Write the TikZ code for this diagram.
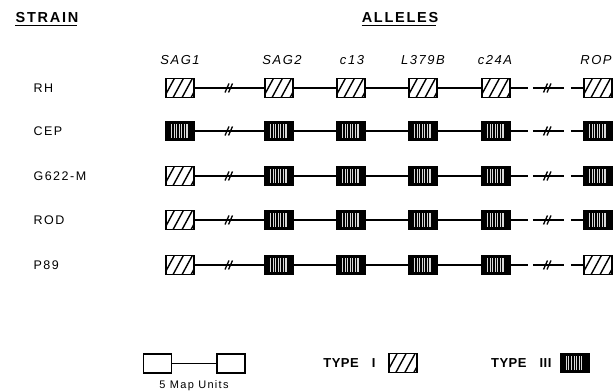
\documentclass[tikz,border=0pt]{standalone}
\usepackage{fontspec}
\setmainfont{Liberation Sans}[LetterSpace=12]
\usetikzlibrary{positioning,calc}

\tikzset{
  allele/.style={draw,line width=1.5pt,minimum width=28pt,minimum height=19pt,inner sep=0pt},
  plain/.style={allele,fill=white},
  typeI/.style={allele,fill=white,path picture={
      \foreach \d in {-26,-17,-8,1,10}
        \draw[line width=1.4pt] ([xshift=\d pt,yshift=-2pt]path picture bounding box.south) -- ++(13,24);}},
  typeIII/.style={allele,fill=black,path picture={
      \foreach \d/\w in {-8.5/1.3,-6/0.7,-3.5/1.4,-0.5/0.8,1.8/1.3,4.5/0.8,7/1.4}
        \draw[white!85!black,line width=\w pt] ([xshift=\d pt,yshift=2.5pt]path picture bounding box.south) -- ++(0,14);}},
  strain/.style={anchor=west,font=\fontsize{12.5}{12}\selectfont},
  gene/.style={font=\fontsize{13}{13}\selectfont\itshape},
  heading/.style={inner sep=0pt,font=\fontsize{14.5}{14}\selectfont\bfseries},
  key/.style={font=\fontsize{13}{13}\selectfont\bfseries\addfontfeatures{LetterSpace=4}},
  link/.style={line width=1.1pt},
  brk/.pic={\draw[line width=1.3pt] (-4.5,-4.5) -- (-0.5,4.5) (-1,-4.5) -- (3,4.5);}
}

\begin{document}
\begin{tikzpicture}[x=1pt,y=1pt]
  \useasboundingbox (0,0) rectangle (613,391);

  % headings
  \node[heading] (strainhead) at (47,373) {STRAIN};
  \node[heading] (allelehead) at (400,373) {ALLELES};
  \foreach \h in {strainhead,allelehead}
    \draw[line width=1.3pt] ([yshift=-2.5pt]\h.south west) -- ([yshift=-2.5pt,xshift=-2pt]\h.south east);

  % gene names
  \foreach \g/\x [count=\i] in {SAG1/180,SAG2/282,c13/352,L379B/423,c24A/495,ROP/596}
    \node[gene] (gene\i) at (\x,331) {\g};

  % strains
  \foreach \name/\y/\ta/\tb/\tc/\td/\te/\tf [count=\r] in {
      RH/303/I/I/I/I/I/I,
      CEP/260/III/III/III/III/III/III,
      G622-M/215/I/III/III/III/III/III,
      ROD/171/I/III/III/III/III/III,
      P89/126/I/III/III/III/III/I}
  {
    \node[strain] (st\r) at (30,\y) {\name};
    \node[type\ta] (g\r a) at (180,\y) {};
    \node[type\tb] (g\r b) at (279,\y) {};
    \node[type\tc] (g\r c) at (351,\y) {};
    \node[type\td] (g\r d) at (423,\y) {};
    \node[type\te] (g\r e) at (496,\y) {};
    \node[type\tf] (g\r f) at (598,\y) {};
    \draw[link] (g\r a) -- (g\r b) coordinate[midway] (cut\r a);
    \draw[link] (g\r b) -- (g\r c) (g\r c) -- (g\r d) (g\r d) -- (g\r e);
    \draw[link,dash pattern=on 17pt off 5pt on 31pt off 7pt on 20pt] (g\r e) -- (g\r f) coordinate[midway] (cut\r b);
    \pic at (cut\r a) {brk};
    \pic at ([xshift=1pt]cut\r b) {brk};
  }

  % key
  \node[plain] (mapa) at (157.5,27.5) {};
  \node[plain] (mapb) at (231,27.5) {};
  \draw[link] (mapa) -- (mapb);
  \node[font=\fontsize{11}{11}\selectfont] (mapunits) at (194,5) {5 Map Units};

  \node[key,anchor=east] (keyI) at (379,28) {TYPE\hspace{13pt}I};
  \node[typeI,right=9pt of keyI] (boxI) {};
  \node[key,anchor=east] (keyIII) at (555,28) {TYPE\hspace{13pt}III};
  \node[typeIII,right=5pt of keyIII] (boxIII) {};
\end{tikzpicture}
\end{document}
